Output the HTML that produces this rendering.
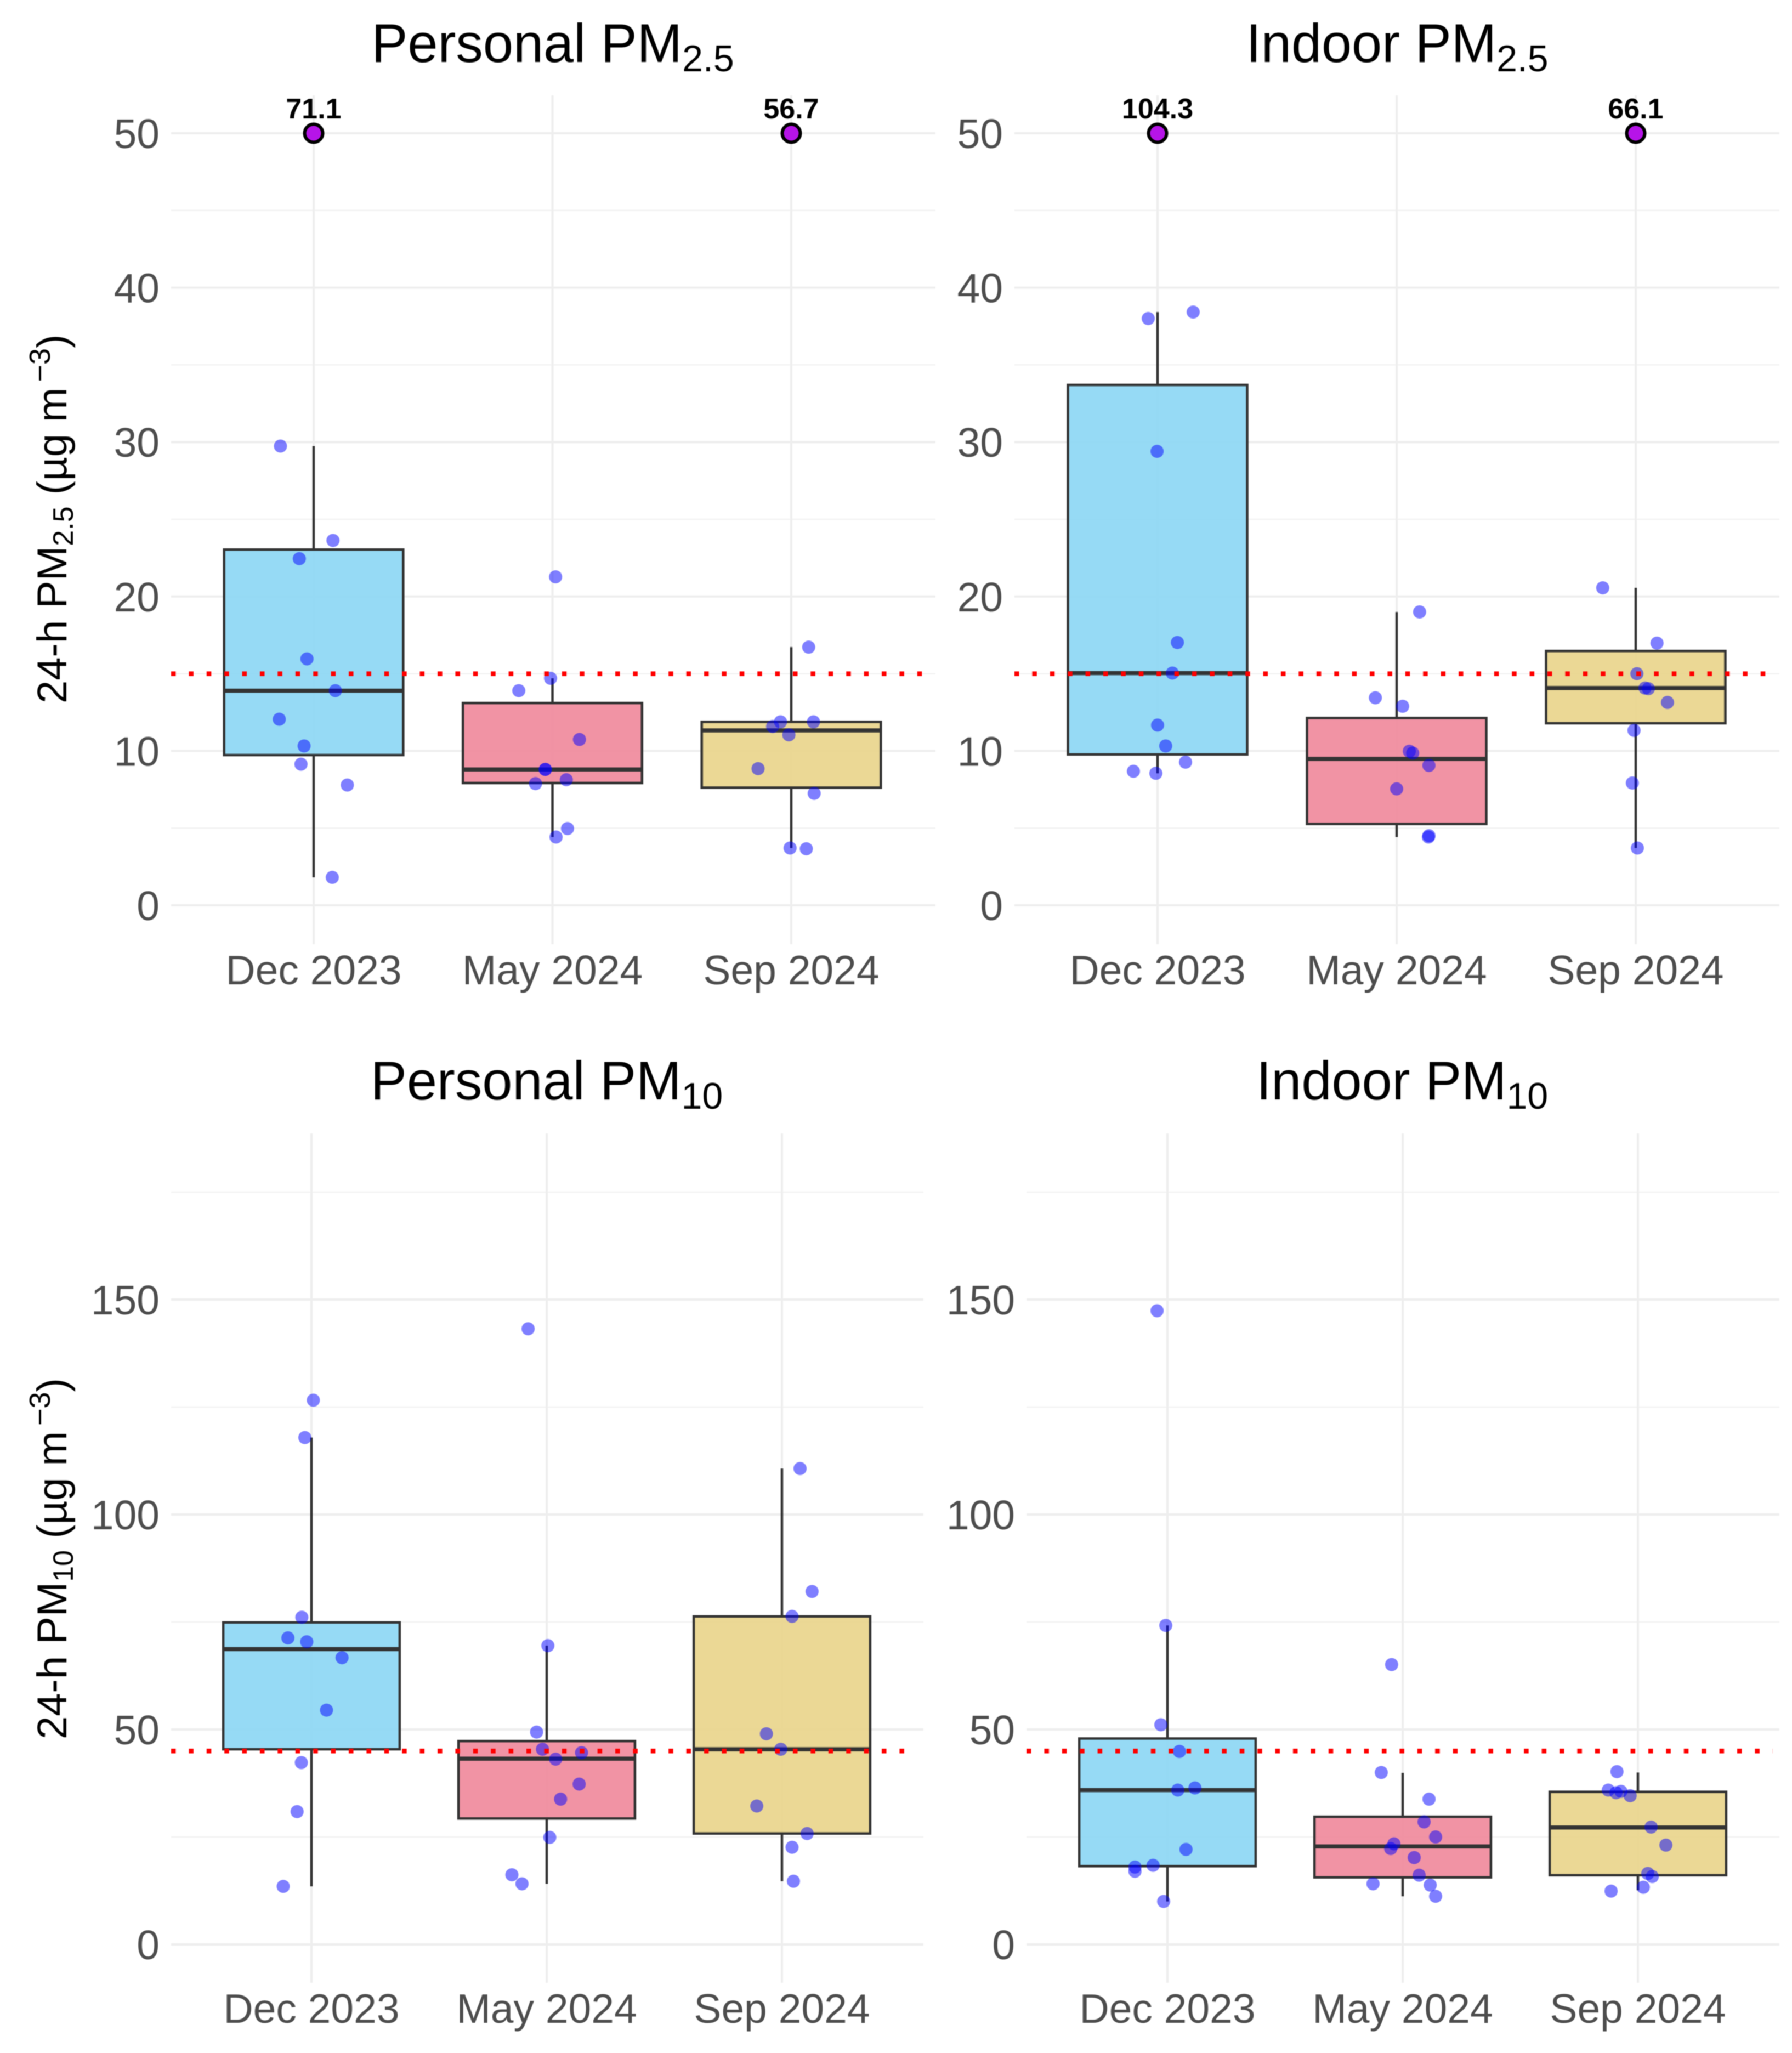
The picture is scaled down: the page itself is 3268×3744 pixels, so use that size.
<!DOCTYPE html>
<html lang="en">
<head>
<meta charset="utf-8">
<title>24-h PM2.5 and PM10 concentrations by campaign</title>
<style>
  html, body { margin: 0; padding: 0; background: #ffffff; }
  svg { display: block; font-family: "Liberation Sans", Arial, sans-serif; filter: blur(0.8px); }
</style>
</head>
<body>
<svg id="chart" xmlns="http://www.w3.org/2000/svg" width="3268" height="3744" viewBox="0 0 3268 3744">
  <rect x="0" y="0" width="3268" height="3744" fill="#ffffff"/>
  <text x="1008" y="113" text-anchor="middle" font-size="99" fill="#000">Personal PM<tspan font-size="68" dy="17">2.5</tspan></text>
  <text x="2548" y="113" text-anchor="middle" font-size="99" fill="#000">Indoor PM<tspan font-size="68" dy="17">2.5</tspan></text>
  <text x="997" y="2005" text-anchor="middle" font-size="99" fill="#000">Personal PM<tspan font-size="68" dy="17">10</tspan></text>
  <text x="2557" y="2005" text-anchor="middle" font-size="99" fill="#000">Indoor PM<tspan font-size="68" dy="17">10</tspan></text>
  <text transform="translate(121,1283) rotate(-90)" font-size="76" fill="#000">24-h PM<tspan font-size="52" dy="12">2.5</tspan><tspan dy="-12"> (µg m</tspan><tspan font-size="54" dx="10" dy="-30">−3</tspan><tspan dy="30">)</tspan></text>
  <text transform="translate(121,3172) rotate(-90)" font-size="76" fill="#000">24-h PM<tspan font-size="52" dy="12">10</tspan><tspan dy="-12"> (µg m</tspan><tspan font-size="54" dx="10" dy="-30">−3</tspan><tspan dy="30">)</tspan></text>
  <g id="plots"></g>
</svg>
<script>
const categories = ['Dec 2023', 'May 2024', 'Sep 2024'];
const pm25MajorTicks = [0, 10, 20, 30, 40, 50];
const pm25MinorTicks = [5, 15, 25, 35, 45];
const pm10MajorTicks = [0, 50, 100, 150];
const pm10MinorTicks = [25, 75, 125, 175];
const pm25Guideline = 15;
const pm10Guideline = 45;
const extremeCap = 50;

const personalPm25Extremes = [71.1, null, 56.7];
const indoorPm25Extremes = [104.3, null, 66.1];

const personalPm25Q1 = [9.73, 7.92, 7.62];
const personalPm25Median = [13.9, 8.8, 11.33];
const personalPm25Q3 = [23.04, 13.1, 11.88];
const personalPm25WhiskerLow = [1.81, 4.42, 3.71];
const personalPm25WhiskerHigh = [29.74, 14.7, 16.72];
const personalPm25Values = [
  [29.74, 23.63, 22.45, 15.96, 13.9, 12.05, 10.32, 9.14, 7.79, 1.81],
  [21.27, 14.7, 13.9, 10.74, 8.8, 8.8, 8.13, 7.88, 4.97, 4.42],
  [16.72, 11.88, 11.58, 11.88, 11.04, 8.85, 7.25, 3.71, 3.66]
];
const personalPm25Jitter = [
  [-0.139, 0.081, -0.06, -0.028, 0.091, -0.144, -0.04, -0.053, 0.141, 0.078],
  [0.013, -0.008, -0.141, 0.113, -0.03, -0.03, 0.058, -0.071, 0.063, 0.015],
  [0.073, -0.045, -0.078, 0.093, -0.01, -0.139, 0.096, -0.005, 0.063]
];

const indoorPm25Q1 = [9.77, 5.27, 11.79];
const indoorPm25Median = [15.04, 9.48, 14.07];
const indoorPm25Q3 = [33.7, 12.13, 16.47];
const indoorPm25WhiskerLow = [8.55, 4.42, 3.71];
const indoorPm25WhiskerHigh = [38.42, 19.0, 20.56];
const indoorPm25Values = [
  [38.42, 38.0, 29.4, 17.02, 15.04, 11.67, 10.32, 9.27, 8.68, 8.55],
  [19.0, 13.44, 12.89, 9.98, 9.86, 9.06, 7.54, 4.51, 4.42],
  [20.56, 16.98, 15.0, 14.07, 14.03, 13.14, 11.33, 7.92, 3.71]
];
const indoorPm25Jitter = [
  [0.149, -0.039, -0.002, 0.083, 0.062, 0, 0.034, 0.117, -0.101, -0.007],
  [0.096, -0.089, 0.025, 0.053, 0.067, 0.135, 0, 0.135, 0.133],
  [-0.138, 0.089, 0.005, 0.039, 0.053, 0.133, -0.007, -0.014, 0.007]
];

const personalPm10Q1 = [45.4, 29.3, 25.8];
const personalPm10Median = [68.7, 43.2, 45.4];
const personalPm10Q3 = [74.9, 47.3, 76.3];
const personalPm10WhiskerLow = [13.5, 14.1, 14.7];
const personalPm10WhiskerHigh = [117.9, 69.5, 110.7];
const personalPm10Values = [
  [126.6, 117.9, 76.1, 71.3, 70.4, 66.7, 54.5, 42.3, 30.9, 13.5],
  [143.2, 69.5, 49.4, 45.4, 44.6, 43.1, 37.3, 33.8, 24.9, 16.2, 14.1],
  [110.7, 82.1, 76.3, 49.0, 45.4, 32.2, 25.8, 22.6, 14.7]
];
const personalPm10Jitter = [
  [0.008, -0.028, -0.041, -0.1, -0.02, 0.13, 0.064, -0.043, -0.061, -0.12],
  [-0.079, 0.005, -0.043, -0.018, 0.148, 0.038, 0.138, 0.059, 0.013, -0.148, -0.105],
  [0.077, 0.128, 0.043, -0.066, -0.005, -0.107, 0.107, 0.043, 0.049]
];

const indoorPm10Q1 = [18.2, 15.6, 16.1];
const indoorPm10Median = [35.9, 22.8, 27.2];
const indoorPm10Q3 = [47.9, 29.7, 35.5];
const indoorPm10WhiskerLow = [10.0, 11.2, 12.6];
const indoorPm10WhiskerHigh = [74.2, 39.9, 40.0];
const indoorPm10Values = [
  [147.4, 74.2, 51.1, 44.9, 35.9, 36.4, 22.1, 18.4, 18.0, 17.0, 10.0],
  [65.1, 40.0, 33.8, 28.5, 25.0, 23.4, 22.3, 20.2, 16.1, 13.8, 14.1, 11.2],
  [40.2, 35.9, 35.3, 35.6, 34.6, 27.3, 23.1, 16.5, 15.8, 13.3, 12.4]
];
const indoorPm10Jitter = [
  [-0.044, -0.007, -0.028, 0.051, 0.044, 0.117, 0.079, -0.061, -0.138, -0.138, -0.016],
  [-0.047, -0.091, 0.112, 0.091, 0.14, -0.037, -0.051, 0.049, 0.07, 0.117, -0.126, 0.14],
  [-0.089, -0.126, -0.093, -0.072, -0.033, 0.056, 0.119, 0.042, 0.061, 0.023, -0.114]
];

const boxFills = ['#8bd6f4', '#f0879a', '#e9d489'];
const SVGNS = 'http://www.w3.org/2000/svg';
const root = document.getElementById('plots');

function make(parent, tag, attrs) {
  const el = document.createElementNS(SVGNS, tag);
  for (const k in attrs) el.setAttribute(k, attrs[k]);
  parent.appendChild(el);
  return el;
}

function drawPanel(p) {
  const xAt = function (pos) { return p.firstX + pos * p.stepX; };
  const yAt = function (v) { return p.zeroY - v * p.unitY; };
  const g = make(root, 'g', {});
  
  

  p.minor.forEach(function (t) {
    const line = make(g, 'line', { x1: p.left, x2: p.right, y1: yAt(t), y2: yAt(t), stroke: '#f3f3f3', 'stroke-width': 2.5 });
    
    
  });
  p.major.forEach(function (t) {
    const line = make(g, 'line', { x1: p.left, x2: p.right, y1: yAt(t), y2: yAt(t), stroke: '#eeeeee', 'stroke-width': 4 });
    
    
    const label = make(g, 'text', { x: p.left - 21, y: yAt(t) + 27, 'text-anchor': 'end', 'font-size': 75, fill: '#4d4d4d' });
    label.textContent = String(t);
    
    
  });

  categories.forEach(function (c, i) {
    const x = xAt(i);
    const grid = make(g, 'line', { x1: x, x2: x, y1: p.top, y2: p.bottom, stroke: '#eeeeee', 'stroke-width': 4 });
    
    
    const label = make(g, 'text', { x: x, y: p.bottom + 73, 'text-anchor': 'middle', 'font-size': 75, fill: '#4d4d4d' });
    label.textContent = c;
    
    
  });

  categories.forEach(function (c, i) {
    const x = xAt(i);
    const halfBox = p.stepX * 0.375;
    const upperWhisker = make(g, 'line', { x1: x, x2: x, y1: yAt(p.whiskerHigh[i]), y2: yAt(p.q3[i]), stroke: '#333333', 'stroke-width': 4.5 });
    
    
    const lowerWhisker = make(g, 'line', { x1: x, x2: x, y1: yAt(p.q1[i]), y2: yAt(p.whiskerLow[i]), stroke: '#333333', 'stroke-width': 4.5 });
    
    
    const box = make(g, 'rect', {
      x: x - halfBox, y: yAt(p.q3[i]), width: halfBox * 2, height: yAt(p.q1[i]) - yAt(p.q3[i]),
      fill: boxFills[i], 'fill-opacity': 0.9, stroke: '#333333', 'stroke-width': 4.5
    });
    
    
    const median = make(g, 'line', { x1: x - halfBox, x2: x + halfBox, y1: yAt(p.median[i]), y2: yAt(p.median[i]), stroke: '#333333', 'stroke-width': 7.5 });
    
    
  });

  categories.forEach(function (c, i) {
    p.values[i].forEach(function (v, j) {
      const dot = make(g, 'circle', { cx: xAt(i + p.jitter[i][j]), cy: yAt(v), r: 12, fill: '#0000ff', 'fill-opacity': 0.5 });
      
      
    });
  });

  const guide = make(g, 'line', {
    x1: p.left, x2: p.right - 12, y1: yAt(p.guideline), y2: yAt(p.guideline),
    stroke: '#ff0000', 'stroke-width': 8.5, 'stroke-dasharray': '8.5 23.9'
  });
  
  

  if (p.extremes) {
    p.extremes.forEach(function (v, i) {
      if (v === null) return;
      const marker = make(g, 'circle', { cx: xAt(i), cy: yAt(extremeCap), r: 16.5, fill: '#b614e8', stroke: '#000000', 'stroke-width': 6 });
      
      
      const label = make(g, 'text', { x: xAt(i), y: yAt(extremeCap) - 27, 'text-anchor': 'middle', 'font-size': 52, 'font-weight': 'bold', fill: '#000000' });
      label.textContent = v.toFixed(1);
      
      
    });
  }
}

drawPanel({
  name: 'personal-pm25', left: 312, right: 1706, top: 174, bottom: 1722,
  firstX: 572, stepX: 435.5, zeroY: 1651, unitY: 28.16,
  major: pm25MajorTicks, minor: pm25MinorTicks, guideline: pm25Guideline,
  q1: personalPm25Q1, median: personalPm25Median, q3: personalPm25Q3,
  whiskerLow: personalPm25WhiskerLow, whiskerHigh: personalPm25WhiskerHigh,
  values: personalPm25Values, jitter: personalPm25Jitter, extremes: personalPm25Extremes
});
drawPanel({
  name: 'indoor-pm25', left: 1850, right: 3245, top: 174, bottom: 1722,
  firstX: 2111, stepX: 436, zeroY: 1651, unitY: 28.16,
  major: pm25MajorTicks, minor: pm25MinorTicks, guideline: pm25Guideline,
  q1: indoorPm25Q1, median: indoorPm25Median, q3: indoorPm25Q3,
  whiskerLow: indoorPm25WhiskerLow, whiskerHigh: indoorPm25WhiskerHigh,
  values: indoorPm25Values, jitter: indoorPm25Jitter, extremes: indoorPm25Extremes
});
drawPanel({
  name: 'personal-pm10', left: 312, right: 1684, top: 2067, bottom: 3616,
  firstX: 568, stepX: 429, zeroY: 3546, unitY: 7.84,
  major: pm10MajorTicks, minor: pm10MinorTicks, guideline: pm10Guideline,
  q1: personalPm10Q1, median: personalPm10Median, q3: personalPm10Q3,
  whiskerLow: personalPm10WhiskerLow, whiskerHigh: personalPm10WhiskerHigh,
  values: personalPm10Values, jitter: personalPm10Jitter, extremes: null
});
drawPanel({
  name: 'indoor-pm10', left: 1872, right: 3245, top: 2067, bottom: 3616,
  firstX: 2129, stepX: 429, zeroY: 3546, unitY: 7.84,
  major: pm10MajorTicks, minor: pm10MinorTicks, guideline: pm10Guideline,
  q1: indoorPm10Q1, median: indoorPm10Median, q3: indoorPm10Q3,
  whiskerLow: indoorPm10WhiskerLow, whiskerHigh: indoorPm10WhiskerHigh,
  values: indoorPm10Values, jitter: indoorPm10Jitter, extremes: null
});
</script>
</body>
</html>
